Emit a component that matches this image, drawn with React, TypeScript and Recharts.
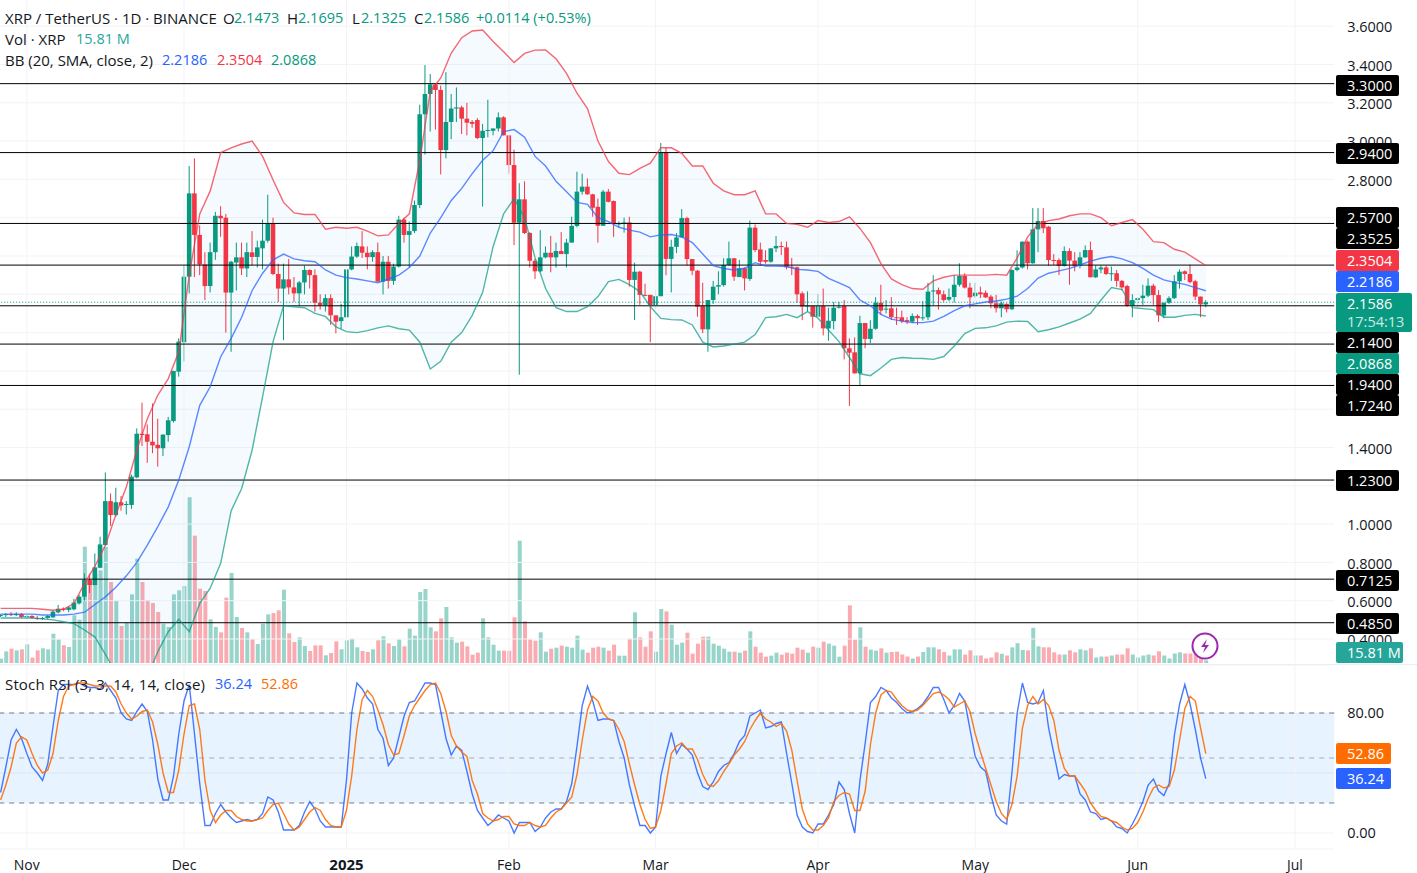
import { Area, Bar, CartesianGrid, Cell, ComposedChart, Line, ReferenceArea, ReferenceLine, XAxis, YAxis } from "recharts";

// one candle per day, index 0 = 27 Oct 2024, last one = 14 Jun 2025
const opens = [
  .52, .525, .53, .525, .53, .515, .52, .51, .505, .51,
  .513, .539, .558, .552, .555, .586, .621, .708, .682, .772,
  .891, 1.12, 1.047, 1.114, 1.1, 1.10, 1.244, 1.472, 1.469, 1.43,
  1.414, 1.396, 1.465, 1.538, 1.796, 1.95, 2.292, 2.727, 2.51, 2.356,
  2.243, 2.42, 2.61, 2.60, 2.209, 2.366, 2.393, 2.335, 2.419, 2.395,
  2.44, 2.48, 2.567, 2.306, 2.23, 2.278, 2.236, 2.205, 2.262, 2.327,
  2.30, 2.156, 2.142, 2.18, 2.09, 2.06, 2.08, 2.33, 2.397, 2.45,
  2.417, 2.394, 2.42, 2.266, 2.37, 2.27, 2.345, 2.59, 2.51, 2.53,
  2.666, 3.14, 3.246, 3.296, 3.267, 2.953, 3.10, 3.17, 3.176, 3.117,
  3.10, 3.11, 3.016, 3.054, 3.054, 3.066, 3.124, 3.03, 2.875, 2.574,
  2.696, 2.52, 2.375, 2.32, 2.393, 2.417, 2.393, 2.426, 2.41, 2.47,
  2.557, 2.736, 2.762, 2.722, 2.657, 2.558, 2.736, 2.687, 2.567, 2.57,
  2.575, 2.275, 2.318, 2.197, 2.197, 2.144, 2.19, 2.94, 2.385, 2.448,
  2.497, 2.598, 2.384, 2.323, 2.139, 2.017, 2.17, 2.24, 2.248, 2.353,
  2.388, 2.29, 2.336, 2.28, 2.548, 2.434, 2.379, 2.37, 2.44, 2.452,
  2.445, 2.344, 2.341, 2.205, 2.136, 2.139, 2.083, 2.139, 2.022, 2.06,
  2.13, 2.139, 1.918, 1.897, 1.787, 2.05, 1.967, 2.02, 2.156, 2.12,
  2.127, 2.08, 2.08, 2.065, 2.057, 2.087, 2.075, 2.08, 2.216, 2.222,
  2.2, 2.172, 2.186, 2.25, 2.296, 2.235, 2.19, 2.21, 2.208, 2.188,
  2.153, 2.127, 2.15, 2.122, 2.327, 2.34, 2.475, 2.362, 2.539, 2.583,
  2.553, 2.379, 2.379, 2.348, 2.426, 2.376, 2.348, 2.393, 2.431, 2.289,
  2.33, 2.34, 2.306, 2.31, 2.27, 2.243, 2.139, 2.17, 2.18, 2.193,
  2.245, 2.196, 2.09, 2.156, 2.18, 2.268, 2.32, 2.306, 2.268, 2.188,
  2.1473,
];
const highs = [
  .53, .535, .54, .54, .535, .525, .525, .52, .515, .525,
  .55, .578, .565, .57, .61, .63, .743, .74, .847, .934,
  1.27, 1.16, 1.19, 1.147, 1.12, 1.258, 1.50, 1.634, 1.52, 1.63,
  1.55, 1.47, 1.56, 1.80, 1.97, 2.35, 2.87, 2.91, 2.56, 2.42,
  2.47, 2.63, 2.66, 2.62, 2.375, 2.47, 2.47, 2.47, 2.53, 2.48,
  2.59, 2.72, 2.60, 2.36, 2.36, 2.385, 2.29, 2.27, 2.35, 2.33,
  2.33, 2.2, 2.2, 2.2, 2.09, 2.15, 2.33, 2.45, 2.47, 2.53,
  2.45, 2.43, 2.47, 2.4, 2.4, 2.36, 2.61, 2.6, 2.58, 2.69,
  3.19, 3.397, 3.35, 3.30, 3.29, 3.36, 3.246, 3.28, 3.185, 3.2,
  3.11, 3.12, 3.09, 3.216, 3.066, 3.15, 3.13, 3.03, 2.955, 2.78,
  2.79, 2.525, 2.385, 2.535, 2.45, 2.505, 2.47, 2.525, 2.49, 2.605,
  2.84, 2.83, 2.805, 2.725, 2.70, 2.745, 2.75, 2.69, 2.58, 2.6,
  2.605, 2.365, 2.323, 2.255, 2.197, 2.222, 2.99, 2.965, 2.485, 2.52,
  2.645, 2.605, 2.384, 2.327, 2.26, 2.17, 2.27, 2.32, 2.388, 2.475,
  2.39, 2.38, 2.34, 2.585, 2.565, 2.47, 2.43, 2.44, 2.504, 2.475,
  2.475, 2.39, 2.345, 2.215, 2.215, 2.14, 2.2, 2.23, 2.13, 2.16,
  2.16, 2.17, 1.97, 1.975, 2.088, 2.05, 2.065, 2.185, 2.25, 2.17,
  2.185, 2.13, 2.115, 2.08, 2.1, 2.095, 2.165, 2.26, 2.3, 2.235,
  2.22, 2.23, 2.3, 2.362, 2.31, 2.26, 2.26, 2.24, 2.22, 2.197,
  2.197, 2.162, 2.153, 2.33, 2.43, 2.475, 2.48, 2.65, 2.65, 2.65,
  2.556, 2.41, 2.388, 2.45, 2.44, 2.42, 2.42, 2.455, 2.475, 2.35,
  2.35, 2.35, 2.345, 2.327, 2.275, 2.25, 2.2, 2.185, 2.25, 2.283,
  2.255, 2.222, 2.156, 2.19, 2.3, 2.33, 2.325, 2.355, 2.275, 2.188,
  2.1695,
];
const lows = [
  .515, .515, .52, .52, .51, .505, .505, .5, .5, .505,
  .51, .534, .545, .54, .55, .58, .60, .64, .68, .77,
  .89, .99, 1.04, 1.07, 1.05, 1.08, 1.24, 1.408, 1.32, 1.37,
  1.30, 1.355, 1.43, 1.53, 1.77, 1.85, 2.205, 2.29, 2.3, 2.17,
  2.21, 2.38, 2.5, 2.0, 1.90, 2.22, 2.3, 2.29, 2.35, 2.34,
  2.33, 2.47, 2.3, 2.16, 1.96, 2.2, 2.16, 2.14, 2.2, 2.23,
  2.11, 2.12, 2.11, 2.04, 1.996, 2.02, 2.08, 2.325, 2.39, 2.39,
  2.33, 2.37, 2.266, 2.2, 2.23, 2.25, 2.34, 2.47, 2.34, 2.52,
  2.65, 2.93, 3.05, 3.06, 2.826, 2.91, 3.01, 3.10, 3.037, 3.03,
  3.07, 3.01, 2.658, 3.02, 3.03, 3.05, 3.03, 2.83, 2.457, 1.78,
  2.515, 2.34, 2.28, 2.315, 2.388, 2.315, 2.34, 2.41, 2.34, 2.47,
  2.55, 2.72, 2.72, 2.605, 2.47, 2.558, 2.68, 2.50, 2.55, 2.522,
  2.24, 2.066, 2.145, 2.19, 1.95, 2.12, 2.19, 2.30, 2.21, 2.415,
  2.497, 2.349, 2.30, 2.083, 1.997, 1.90, 2.15, 2.2, 2.24, 2.35,
  2.27, 2.29, 2.22, 2.27, 2.42, 2.35, 2.36, 2.365, 2.42, 2.405,
  2.33, 2.30, 2.155, 2.065, 2.11, 2.026, 2.083, 1.985, 1.957, 2.017,
  2.126, 1.86, 1.617, 1.787, 1.726, 1.918, 1.945, 2.015, 2.093, 2.10,
  2.066, 2.04, 2.05, 2.045, 2.05, 2.04, 2.063, 2.065, 2.144, 2.12,
  2.161, 2.165, 2.157, 2.24, 2.23, 2.127, 2.182, 2.18, 2.18, 2.127,
  2.105, 2.08, 2.105, 2.118, 2.32, 2.335, 2.33, 2.36, 2.42, 2.52,
  2.348, 2.353, 2.30, 2.345, 2.25, 2.32, 2.335, 2.39, 2.289, 2.285,
  2.31, 2.30, 2.27, 2.24, 2.22, 2.135, 2.08, 2.127, 2.145, 2.185,
  2.145, 2.056, 2.075, 2.15, 2.175, 2.23, 2.275, 2.257, 2.17, 2.08,
  2.1325,
];
const closes = [
  .525, .53, .525, .53, .515, .52, .51, .505, .51, .52,
  .543, .558, .552, .565, .59, .621, .708, .682, .774, .894,
  1.12, 1.047, 1.114, 1.097, 1.105, 1.248, 1.472, 1.465, 1.43, 1.411,
  1.396, 1.467, 1.542, 1.80, 1.953, 2.292, 2.727, 2.51, 2.356, 2.243,
  2.42, 2.61, 2.597, 2.209, 2.37, 2.393, 2.335, 2.42, 2.395, 2.445,
  2.48, 2.567, 2.306, 2.23, 2.278, 2.236, 2.205, 2.262, 2.327, 2.30,
  2.156, 2.142, 2.18, 2.09, 2.057, 2.08, 2.33, 2.397, 2.452, 2.417,
  2.394, 2.42, 2.266, 2.37, 2.27, 2.345, 2.59, 2.51, 2.53, 2.666,
  3.14, 3.246, 3.296, 3.267, 2.953, 3.10, 3.17, 3.176, 3.117, 3.096,
  3.09, 3.016, 3.054, 3.058, 3.066, 3.124, 3.03, 2.875, 2.574, 2.696,
  2.52, 2.375, 2.32, 2.393, 2.417, 2.393, 2.426, 2.41, 2.47, 2.557,
  2.736, 2.762, 2.722, 2.652, 2.558, 2.736, 2.683, 2.567, 2.57, 2.575,
  2.275, 2.318, 2.197, 2.193, 2.144, 2.19, 2.94, 2.385, 2.448, 2.497,
  2.598, 2.384, 2.323, 2.135, 2.017, 2.17, 2.24, 2.248, 2.353, 2.388,
  2.292, 2.336, 2.283, 2.548, 2.431, 2.37, 2.37, 2.44, 2.452, 2.448,
  2.341, 2.339, 2.20, 2.136, 2.14, 2.083, 2.139, 2.022, 2.062, 2.13,
  2.135, 1.918, 1.895, 1.787, 2.05, 1.967, 2.02, 2.156, 2.115, 2.125,
  2.08, 2.077, 2.06, 2.057, 2.087, 2.075, 2.08, 2.214, 2.22, 2.2,
  2.17, 2.186, 2.25, 2.296, 2.235, 2.184, 2.208, 2.2, 2.184, 2.153,
  2.127, 2.153, 2.122, 2.327, 2.34, 2.475, 2.362, 2.539, 2.583, 2.545,
  2.379, 2.376, 2.348, 2.426, 2.376, 2.348, 2.393, 2.431, 2.289, 2.33,
  2.34, 2.306, 2.31, 2.27, 2.236, 2.139, 2.17, 2.18, 2.193, 2.245,
  2.196, 2.09, 2.156, 2.18, 2.268, 2.318, 2.306, 2.264, 2.188, 2.1473,
  2.1586,
];
// millions of XRP
const volumes = [
  26, 70, 86, 76, 82, 112, 32, 76, 88, 82,
  176, 142, 106, 96, 286, 260, 698, 476, 536, 556,
  696, 486, 372, 222, 242, 412, 626, 486, 378, 360,
  306, 236, 216, 412, 436, 462, 994, 764, 446, 432,
  262, 216, 184, 392, 540, 276, 210, 184, 142, 114,
  236, 292, 300, 316, 440, 178, 126, 154, 102, 72,
  106, 106, 46, 60, 130, 82, 136, 146, 94, 72,
  66, 82, 136, 160, 118, 102, 142, 100, 206, 164,
  426, 444, 214, 190, 268, 336, 154, 122, 128, 100,
  50, 62, 268, 154, 110, 74, 74, 74, 274, 734,
  250, 142, 134, 184, 68, 86, 92, 104, 98, 92,
  164, 80, 62, 92, 98, 92, 74, 110, 44, 44,
  146, 304, 154, 98, 190, 68, 324, 310, 230, 110,
  122, 182, 56, 116, 158, 158, 116, 104, 86, 68,
  68, 62, 74, 190, 98, 62, 38, 44, 62, 50,
  62, 56, 92, 80, 62, 98, 92, 128, 116, 104,
  38, 104, 346, 140, 214, 98, 80, 74, 88, 62,
  66, 68, 51, 39, 27, 39, 66, 94, 94, 82,
  66, 45, 82, 82, 51, 76, 45, 45, 27, 33,
  64, 55, 45, 94, 119, 78, 76, 211, 100, 94,
  94, 64, 51, 51, 76, 64, 82, 76, 88, 33,
  39, 39, 45, 51, 51, 88, 51, 33, 45, 51,
  45, 70, 45, 27, 57, 64, 57, 57, 57, 33,
  15.81,
];

const bandDays = [
  0, 2, 4, 6, 8, 10, 12, 14, 16, 18, 20, 22, 24, 26, 28, 30, 32, 34, 36, 38, 40, 42, 44, 46, 48, 50, 52, 54, 56, 58,
  60, 62, 64, 66, 68, 70, 72, 74, 76, 78, 80, 82, 84, 86, 88, 90, 92, 94, 96, 98, 100, 102, 104, 106, 108, 110, 112, 114, 116, 118,
  120, 122, 124, 126, 128, 130, 132, 134, 136, 138, 140, 142, 144, 146, 148, 150, 152, 154, 156, 158, 160, 162, 164, 166, 168, 170, 172, 174, 176, 178,
  180, 182, 184, 186, 188, 190, 192, 194, 196, 198, 200, 202, 204, 206, 208, 210, 212, 214, 216, 218, 220, 222, 224, 226, 228, 230,
];
const bandUpper = [
  .56, .56, .56, .56, .555, .55, .555, .585, .69, .78, .89, 1.05, 1.195, 1.387, 1.55, 1.674, 1.76, 1.90, 2.3, 2.62, 2.74, 2.94, 2.965, 2.985, 3.0, 2.92, 2.797, 2.68, 2.625, 2.617,
  2.617, 2.54, 2.55, 2.545, 2.55, 2.53, 2.505, 2.51, 2.57, 2.62, 2.9, 3.26, 3.33, 3.46, 3.54, 3.575, 3.58, 3.52, 3.467, 3.41, 3.458, 3.475, 3.476, 3.43, 3.354, 3.25, 3.17, 3.0, 2.893, 2.832,
  2.825, 2.858, 2.885, 2.966, 2.965, 2.936, 2.87, 2.87, 2.78, 2.74, 2.72, 2.72, 2.74, 2.62, 2.62, 2.57, 2.565, 2.55, 2.585, 2.575, 2.58, 2.605, 2.544, 2.47, 2.36, 2.28, 2.25, 2.23, 2.226, 2.27,
  2.289, 2.30, 2.30, 2.30, 2.30, 2.304, 2.30, 2.39, 2.50, 2.565, 2.585, 2.593, 2.61, 2.62, 2.62, 2.60, 2.558, 2.575, 2.59, 2.54, 2.475, 2.47, 2.435, 2.42, 2.385, 2.3504,
];
const bandMiddle = [
  .53, .53, .53, .53, .525, .525, .525, .53, .54, .58, .62, .67, .73, .80, .89, .987, 1.09, 1.23, 1.404, 1.62, 1.717, 1.874, 1.97, 2.08, 2.22, 2.31, 2.38, 2.41, 2.385, 2.375,
  2.37, 2.327, 2.30, 2.287, 2.28, 2.27, 2.26, 2.28, 2.30, 2.34, 2.40, 2.52, 2.60, 2.69, 2.753, 2.83, 2.90, 2.95, 3.05, 3.06, 3.02, 2.92, 2.87, 2.79, 2.736, 2.68, 2.67, 2.60, 2.58, 2.55,
  2.535, 2.525, 2.50, 2.51, 2.512, 2.50, 2.47, 2.41, 2.35, 2.335, 2.327, 2.336, 2.365, 2.348, 2.348, 2.345, 2.33, 2.327, 2.32, 2.283, 2.26, 2.235, 2.17, 2.14, 2.095, 2.07, 2.06, 2.052, 2.052, 2.06,
  2.085, 2.115, 2.14, 2.15, 2.16, 2.165, 2.175, 2.19, 2.23, 2.285, 2.31, 2.322, 2.335, 2.353, 2.373, 2.388, 2.397, 2.385, 2.365, 2.335, 2.30, 2.275, 2.262, 2.252, 2.235, 2.2186,
];
const bandLower = [
  .51, .51, .51, .51, .505, .50, .49, .48, .447, .41, .32, .22, .17, .15, .2, .334, .438, .503, .438, .586, .665, .795, 1.07, 1.186, 1.387, 1.666, 1.953, 2.14, 2.135, 2.13,
  2.10, 2.083, 2.03, 2.005, 2.0, 2.01, 2.025, 2.035, 2.02, 2.013, 1.95, 1.81, 1.85, 1.95, 2.0, 2.09, 2.21, 2.45, 2.62, 2.70, 2.6, 2.39, 2.23, 2.13, 2.11, 2.11, 2.135, 2.188, 2.266, 2.278,
  2.25, 2.214, 2.135, 2.074, 2.068, 2.066, 2.04, 1.95, 1.925, 1.93, 1.94, 1.95, 1.99, 2.078, 2.083, 2.095, 2.078, 2.11, 2.075, 2.014, 1.953, 1.87, 1.785, 1.775, 1.815, 1.86, 1.87, 1.866, 1.865, 1.86,
  1.875, 1.93, 1.995, 2.022, 2.025, 2.035, 2.055, 2.06, 2.058, 2.005, 2.015, 2.03, 2.05, 2.07, 2.10, 2.17, 2.235, 2.225, 2.13, 2.125, 2.12, 2.08, 2.08, 2.09, 2.095, 2.0868,
];

const stochK = [
  27, 44, 62, 69, 63, 53, 44, 40, 35, 46,
  71, 95, 99, 99, 99, 100, 98, 97, 97, 96,
  100, 95, 90, 80, 76, 75, 81, 86, 81, 62,
  36, 22, 22, 38, 66, 88, 99, 66, 33, 5,
  5, 13, 19, 14, 10, 7, 8, 9, 8, 9,
  13, 24, 22, 14, 2, 2, 2, 5, 14, 21,
  16, 8, 4, 4, 4, 4, 35, 80, 100, 96,
  90, 86, 69, 63, 45, 50, 64, 78, 87, 88,
  94, 100, 100, 99, 81, 63, 52, 58, 55, 41,
  26, 15, 10, 5, 8, 12, 10, 8, 0, 7,
  7, 7, 1, 4, 10, 14, 16, 16, 21, 33,
  58, 85, 98, 88, 75, 76, 76, 75, 61, 50,
  32, 18, 5, 5, 0, 4, 38, 53, 67, 53,
  59, 56, 52, 40, 31, 29, 34, 41, 45, 47,
  53, 61, 65, 78, 80, 82, 70, 71, 73, 74,
  53, 33, 12, 4, 1, 0, 6, 6, 12, 19,
  34, 29, 13, 0, 35, 60, 87, 91, 97, 95,
  90, 87, 83, 80, 81, 83, 86, 91, 97, 97,
  89, 80, 85, 93, 88, 69, 51, 44, 41, 25,
  12, 8, 6, 40, 80, 100, 87, 86, 87, 95,
  70, 53, 36, 39, 38, 38, 26, 22, 14, 13,
  9, 10, 8, 4, 3, 0, 6, 13, 21, 32,
  36, 28, 25, 33, 65, 86, 99, 86, 69, 50,
  36.24,
];
const stochD = [
  22, 32, 44, 60, 64, 62, 53, 45, 40, 42,
  53, 75, 91, 98, 99, 100, 100, 99, 98, 98,
  98, 98, 94, 86, 80, 76, 78, 81, 82, 74,
  59, 40, 27, 27, 42, 66, 85, 86, 69, 35,
  15, 7, 12, 15, 15, 11, 9, 8, 8, 9,
  10, 15, 19, 20, 13, 6, 2, 4, 9, 14,
  17, 15, 9, 5, 4, 4, 15, 38, 69, 89,
  95, 91, 82, 72, 59, 52, 53, 65, 78, 85,
  90, 95, 99, 100, 93, 81, 65, 58, 54, 51,
  35, 26, 13, 10, 8, 9, 11, 11, 6, 5,
  5, 7, 5, 4, 5, 10, 14, 16, 20, 24,
  39, 62, 82, 91, 88, 80, 76, 75, 69, 61,
  46, 32, 19, 9, 3, 4, 15, 33, 53, 58,
  60, 56, 56, 49, 39, 32, 31, 35, 41, 46,
  52, 56, 61, 69, 75, 80, 76, 74, 71, 73,
  68, 55, 35, 16, 6, 2, 2, 5, 10, 21,
  25, 27, 26, 15, 15, 28, 59, 80, 92, 95,
  94, 89, 85, 82, 81, 82, 85, 89, 93, 94,
  92, 89, 84, 86, 88, 81, 66, 54, 43, 32,
  21, 13, 9, 19, 38, 70, 85, 91, 86, 89,
  85, 75, 55, 43, 38, 38, 33, 28, 20, 15,
  11, 10, 8, 7, 4, 2, 3, 7, 14, 23,
  30, 32, 30, 31, 42, 62, 83, 91, 88, 70,
  52.86,
];

const priceLevels = [3.3, 2.94, 2.57, 2.3525, 2.14, 1.94, 1.724, 1.23, 0.7125, 0.485];
const lastPrice = 2.1586;
// every 0.2 has a grid line, but the labels under the stacked tags never show
const priceGrid = [0.4, 0.6, 0.8, 1, 1.2, 1.4, 1.6, 1.8, 2, 2.2, 2.4, 2.6, 2.8, 3, 3.2, 3.4, 3.6];
const priceTicks = [0.4, 0.6, 0.8, 1, 1.4, 2.8, 3, 3.2, 3.4, 3.6];
const stochTicks = [0, 40, 80];
const monthDays = [5, 35, 66, 97, 125, 156, 186, 217, 247];
const monthLabels = ["Nov", "Dec", "2025", "Feb", "Mar", "Apr", "May", "Jun", "Jul"];

const GREEN = "#089981";
const RED = "#F23645";
const BLUE = "#2962FF";
const ORANGE = "#FF6D00";
const SKY = "#2196F3";
const INK = "#131722";
const GRID = "#F2F3F5";
const FONT = "'Open Sans', sans-serif";

const PLOT_W = 1336.2;
const AXIS_W = 83;
const FULL_W = PLOT_W + AXIS_W;
const SLOTS = 255;

const rows = Array.from({ length: SLOTS }, (_, i) => {
  const b = bandDays.indexOf(i);
  return {
    i,
    open: opens[i],
    high: highs[i],
    low: lows[i],
    close: closes[i],
    volume: volumes[i],
    upper: b >= 0 ? bandUpper[b] : null,
    middle: b >= 0 ? bandMiddle[b] : null,
    lower: b >= 0 ? bandLower[b] : null,
    band: b >= 0 ? [bandLower[b], bandUpper[b]] : [null, null],
    k: stochK[i],
    d: stochD[i],
  };
});

const Candle = (props: any) => {
  const { x, y, width, height, payload } = props;
  if (payload.open == null) return null;
  const { open, high, low, close } = payload;
  const py = (p: number) => y + ((high - p) / (high - low)) * height;
  const color = close >= open ? GREEN : RED;
  const cx = x + width / 2;
  const top = py(Math.max(open, close));
  const bottom = py(Math.min(open, close));
  return (
    <g>
      <line x1={cx} x2={cx} y1={y} y2={y + height} stroke={color} strokeWidth={1} />
      <rect x={cx - 2.3} y={top} width={4.6} height={Math.max(bottom - top, 1)} fill={color} />
    </g>
  );
};

const MonthTick = ({ x, y, payload }: any) => {
  const label = monthLabels[monthDays.indexOf(payload.value)];
  const bold = label === "2025";
  return (
    <text x={x} y={y} dy={13} textAnchor="middle" fontSize={bold ? 15 : 14} fontFamily={FONT} fill={INK} fontWeight={bold ? 700 : 400}>
      {label}
    </text>
  );
};

// right hand price scale boxes, stacked so they do not overlap
const priceTags = [
  { text: "3.3000", top: 75, bg: "#000" },
  { text: "2.9400", top: 143, bg: "#000" },
  { text: "2.5700", top: 207, bg: "#000" },
  { text: "2.3525", top: 228, bg: "#000" },
  { text: "2.3504", top: 250, bg: RED },
  { text: "2.2186", top: 271, bg: BLUE },
  { text: "2.1400", top: 332, bg: "#000" },
  { text: "2.0868", top: 353, bg: GREEN },
  { text: "1.9400", top: 374, bg: "#000" },
  { text: "1.7240", top: 395, bg: "#000" },
  { text: "1.2300", top: 470, bg: "#000" },
  { text: "0.7125", top: 570, bg: "#000" },
  { text: "0.4850", top: 613, bg: "#000" },
];

const Tag = ({ text, top, bg, width = 63 }: { text: string; top: number; bg: string; width?: number }) => (
  <div
    style={{
      position: "absolute",
      left: 1336,
      top,
      width,
      height: 21,
      lineHeight: "21px",
      background: bg,
      color: "#fff",
      borderRadius: 2,
      fontSize: 14.5,
      paddingLeft: 11,
      boxSizing: "border-box",
    }}
  >
    {text}
  </div>
);

// legend text is wider than its numbers in the reference, hence the two sizes
const Txt = ({ x, y, children, color = INK, size = 14.5, spacing = 0 }: any) => (
  <div style={{ position: "absolute", left: x, top: y, fontSize: size, lineHeight: "18px", letterSpacing: spacing, color, whiteSpace: "pre" }}>{children}</div>
);

export default function App() {
  return (
    <div style={{ position: "absolute", left: 0, top: 0, width: 1417, height: 873, overflow: "hidden", background: "#fff", fontFamily: FONT }}>
      {/* volume sits behind the price pane */}
      <div style={{ position: "absolute", left: -2, top: 0 }}>
        <ComposedChart width={FULL_W} height={663} data={rows} margin={{ top: 0, right: AXIS_W, bottom: 0, left: 0 }}>
          <XAxis dataKey="i" hide scale="band" />
          <YAxis hide domain={[0, 3978]} />
          <Bar dataKey="volume" isAnimationActive={false} barSize={4}>
            {rows.map((r) => (
              <Cell key={r.i} fill={r.close >= r.open ? GREEN : RED} fillOpacity={0.42} />
            ))}
          </Bar>
        </ComposedChart>
      </div>

      <div style={{ position: "absolute", left: -2, top: 0 }}>
        <ComposedChart width={FULL_W} height={663} data={rows} margin={{ top: 0, right: 0, bottom: 0, left: 0 }}>
          <CartesianGrid vertical={false} stroke={GRID} horizontalValues={priceGrid} />
          <XAxis dataKey="i" hide scale="band" />
          <YAxis
            orientation="right"
            width={AXIS_W}
            domain={[0.2747, 3.7368]}
            allowDataOverflow
            ticks={priceTicks}
            interval={0}
            axisLine={false}
            tickLine={false}
            tickSize={0}
            tickMargin={13}
            tick={{ fontSize: 14.5, fontFamily: FONT, fill: INK, dy: 1 }}
            tickFormatter={(v: number) => v.toFixed(4)}
          />
          {monthDays.map((d) => (
            <ReferenceLine key={d} x={d} stroke={GRID} />
          ))}
          <Area dataKey={(r: any) => r.band} connectNulls stroke="none" fill={SKY} fillOpacity={0.05} dot={false} activeDot={false} isAnimationActive={false} />
          {priceLevels.map((p) => (
            <ReferenceLine key={p} y={p} stroke="#000" strokeWidth={1} />
          ))}
          <ReferenceLine y={lastPrice} stroke={GREEN} strokeDasharray="1 2" />
          <Line dataKey="upper" connectNulls stroke={RED} strokeWidth={1.4} strokeOpacity={0.75} dot={false} activeDot={false} isAnimationActive={false} />
          <Line dataKey="middle" connectNulls stroke={BLUE} strokeWidth={1.4} strokeOpacity={0.75} dot={false} activeDot={false} isAnimationActive={false} />
          <Line dataKey="lower" connectNulls stroke={GREEN} strokeWidth={1.4} strokeOpacity={0.7} dot={false} activeDot={false} isAnimationActive={false} />
          <Bar dataKey={(r: any) => (r.open == null ? null : [r.low, r.high])} shape={Candle} isAnimationActive={false} />
        </ComposedChart>
      </div>

      <div style={{ position: "absolute", left: 0, top: 664, width: 1417, height: 1, background: "#ECEEF2" }} />

      <div style={{ position: "absolute", left: -2, top: 665 }}>
        <ComposedChart width={FULL_W} height={208} data={rows} margin={{ top: 0, right: 0, bottom: 0, left: 0 }}>
          <CartesianGrid vertical={false} stroke={GRID} />
          <XAxis
            dataKey="i"
            scale="band"
            height={24}
            ticks={monthDays}
            interval={0}
            axisLine={false}
            tickLine={false}
            tick={MonthTick}
          />
          <YAxis
            orientation="right"
            width={AXIS_W}
            domain={[-10.67, 112]}
            allowDataOverflow
            ticks={stochTicks}
            interval={0}
            axisLine={false}
            tickLine={false}
            tickSize={0}
            tickMargin={13}
            tick={{ fontSize: 14.5, fontFamily: FONT, fill: INK }}
            tickFormatter={(v: number) => v.toFixed(2)}
          />
          {monthDays.map((d) => (
            <ReferenceLine key={d} x={d} stroke={GRID} />
          ))}
          <ReferenceArea y1={20} y2={80} fill={SKY} fillOpacity={0.11} stroke="none" />
          <ReferenceLine y={80} stroke="#787B86" strokeDasharray="5 5" />
          <ReferenceLine y={50} stroke="#787B86" strokeOpacity={0.6} strokeDasharray="5 5" />
          <ReferenceLine y={20} stroke="#787B86" strokeDasharray="5 5" />
          <Line dataKey="k" stroke={BLUE} strokeWidth={1.4} strokeOpacity={0.85} dot={false} activeDot={false} isAnimationActive={false} />
          <Line dataKey="d" stroke={ORANGE} strokeWidth={1.4} strokeOpacity={0.9} dot={false} activeDot={false} isAnimationActive={false} />
        </ComposedChart>
      </div>

      <Txt x={5} y={9} size={15}>XRP / TetherUS · 1D · BINANCE</Txt>
      <Txt x={223} y={9} size={15}>O</Txt>
      <Txt x={234} y={9} color={GREEN}>2.1473</Txt>
      <Txt x={287} y={9} size={15}>H</Txt>
      <Txt x={298} y={9} color={GREEN}>2.1695</Txt>
      <Txt x={352} y={9} size={15}>L</Txt>
      <Txt x={361} y={9} color={GREEN}>2.1325</Txt>
      <Txt x={414} y={9} size={15}>C</Txt>
      <Txt x={424} y={9} color={GREEN}>2.1586</Txt>
      <Txt x={476} y={9} color={GREEN}>+0.0114 (+0.53%)</Txt>

      <Txt x={5} y={30} size={15}>Vol · XRP</Txt>
      <Txt x={76} y={30} color="#26A69A">15.81 M</Txt>

      <Txt x={5} y={51} size={15}>BB (20, SMA, close, 2)</Txt>
      <Txt x={162} y={51} color={BLUE}>2.2186</Txt>
      <Txt x={217} y={51} color={RED}>2.3504</Txt>
      <Txt x={271} y={51} color={GREEN}>2.0868</Txt>

      <Txt x={5} y={675} size={15} spacing={0.15}>Stoch RSI (3, 3, 14, 14, close)</Txt>
      <Txt x={215} y={675} color={BLUE}>36.24</Txt>
      <Txt x={261} y={675} color={ORANGE}>52.86</Txt>

      {priceTags.map((t) => (
        <Tag key={t.text} {...t} />
      ))}
      <div style={{ position: "absolute", left: 1336, top: 293, width: 76, height: 39, background: GREEN, color: "#fff", borderRadius: 2, fontSize: 14.5 }}>
        <div style={{ position: "absolute", left: 11, top: 1, lineHeight: "19px" }}>2.1586</div>
        <div style={{ position: "absolute", left: 11, top: 19, lineHeight: "19px", opacity: 0.8 }}>17:54:13</div>
      </div>
      <Tag text="15.81 M" top={642} bg="#26A69A" width={67} />
      <Tag text="52.86" top={743} bg={ORANGE} width={55} />
      <Tag text="36.24" top={768} bg={BLUE} width={55} />

      <svg style={{ position: "absolute", left: 1191, top: 632 }} width={28} height={28}>
        <circle cx={14} cy={14} r={12.5} fill="#fff" fillOpacity={0.7} stroke="#9C27B0" strokeWidth={2} />
        <path d="M16 7 L10 15 H14 L12 21 L18 13 H14 Z" fill="#9C27B0" />
      </svg>
    </div>
  );
}
